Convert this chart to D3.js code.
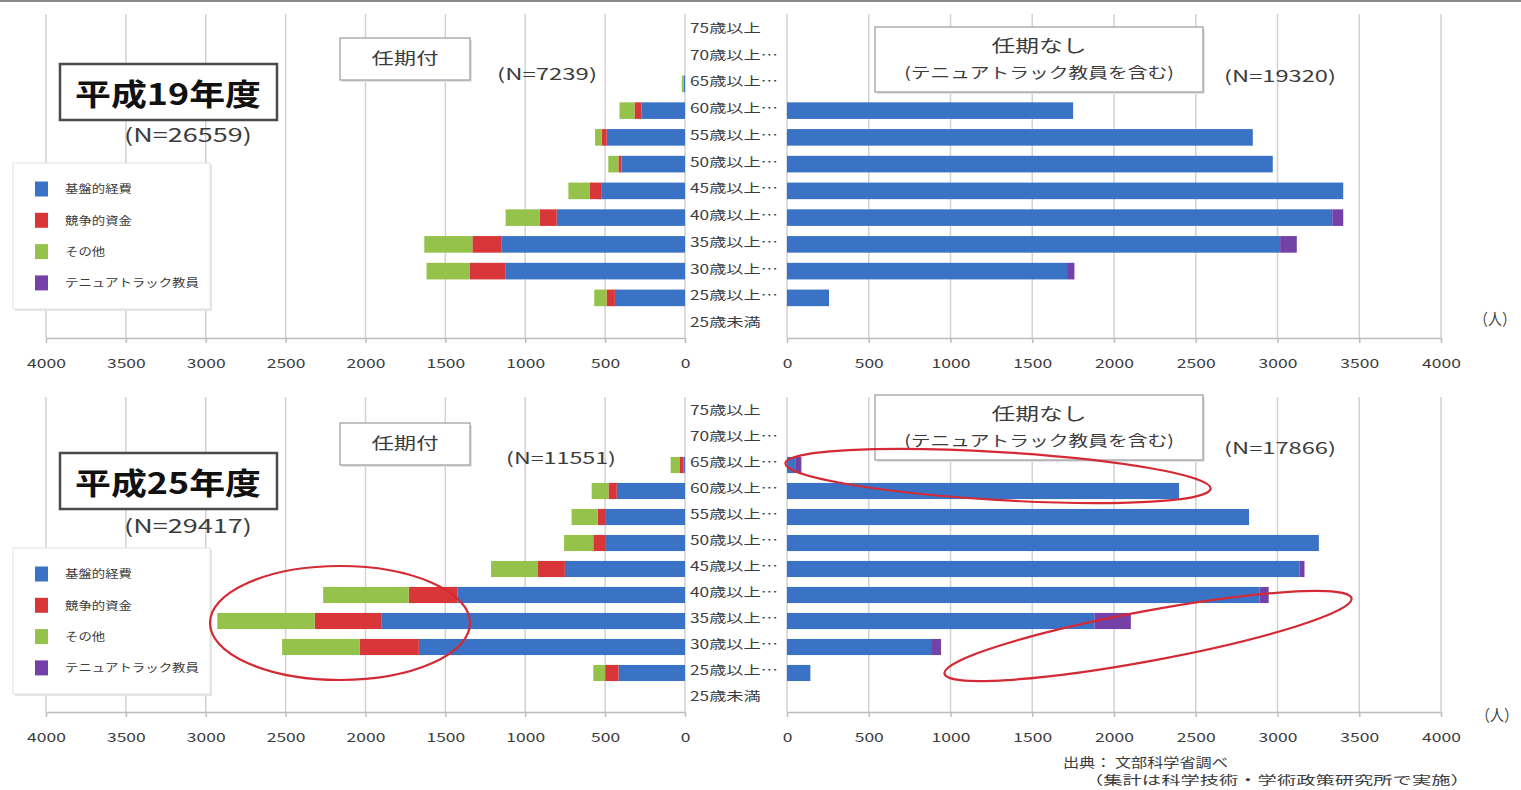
<!DOCTYPE html>
<html>
<head>
<meta charset="utf-8">
<script src="https://cdn.jsdelivr.net/npm/d3@7"></script>
<style>
  body { margin: 0; background: #fff; }
  svg { display: block; font-family: "Noto Sans CJK JP", "Noto Sans", sans-serif; }
</style>
</head>
<body>
<svg id="chart" width="1521" height="790"></svg>
<script>
// ---- data ---------------------------------------------------------------
const ages = ["75歳以上", "70歳以上…", "65歳以上…", "60歳以上…", "55歳以上…", "50歳以上…",
              "45歳以上…", "40歳以上…", "35歳以上…", "30歳以上…", "25歳以上…", "25歳未満"];
const fundKeys   = ["basic", "comp", "other", "tenure"];
const fundLabels = ["基盤的経費", "競争的資金", "その他", "テニュアトラック教員"];
const fundColors = ["#3a73c6", "#d9363a", "#95c24a", "#7341a8"];
const xTicks = [0, 500, 1000, 1500, 2000, 2500, 3000, 3500, 4000];

// 平成19年度 任期付 (N=7239)
const basicH19Fixed  = [0, 0,  8, 272, 490, 397, 525,  803, 1147, 1122, 439, 0];
const compH19Fixed   = [0, 0,  0,  44,  31,  20,  73,  105,  184,  224,  52, 0];
const otherH19Fixed  = [0, 0, 12,  94,  42,  63, 132,  215,  301,  272,  77, 0];
const tenureH19Fixed = [0, 0,  0,   0,   0,   0,   0,    0,    0,    0,   0, 0];
// 平成19年度 任期なし (N=19320)
const basicH19Perm   = [0, 0, 0, 1750, 2849, 2971, 3402, 3335, 3016, 1713, 257, 0];
const tenureH19Perm  = [0, 0, 0,    0,    0,    0,    0,   67,  102,   45,   0, 0];
// 平成25年度 任期付 (N=11551)
const basicH25Fixed  = [0, 0, 10, 427, 500, 500, 752, 1425, 1898, 1666, 416, 0];
const compH25Fixed   = [0, 0, 25,  52,  46,  74, 168,  304,  420,  369,  84, 0];
const otherH25Fixed  = [0, 0, 55, 105, 164, 183, 294,  536,  610,  487,  74, 0];
const tenureH25Fixed = [0, 0,  0,   0,   0,   0,   0,    0,    0,    0,   0, 0];
// 平成25年度 任期なし (N=17866)
const basicH25Perm   = [0, 0, 50, 2398, 2826, 3253, 3135, 2890, 1880, 887, 143, 0];
const tenureH25Perm  = [0, 0, 38,    0,    0,    0,   30,   56,  223,  55,   0, 0];

const zeros = ages.map(() => 0);

// per-panel content plus where its furniture sits
const panels = [
  { year: "平成19年度", total: "(N=26559)", fixedN: "(N=7239)", permN: "(N=19320)",
    fixed: [basicH19Fixed, compH19Fixed, otherH19Fixed, tenureH19Fixed],
    perm:  [basicH19Perm, zeros, zeros, tenureH19Perm],
    top: 17, bottom: 338,
    yearBoxY: 64, totalY: 134, fixedBoxY: 38, fixedNPos: [547, 73, 100],
    permBoxY: 27, permNY: 75, unitPos: [1495, 318], legendY: 163 },
  { year: "平成25年度", total: "(N=29417)", fixedN: "(N=11551)", permN: "(N=17866)",
    fixed: [basicH25Fixed, compH25Fixed, otherH25Fixed, tenureH25Fixed],
    perm:  [basicH25Perm, zeros, zeros, tenureH25Perm],
    top: 400, bottom: 712,
    yearBoxY: 453, totalY: 525, fixedBoxY: 423, fixedNPos: [561, 457, 110],
    permBoxY: 395, permNY: 447, unitPos: [1497, 714], legendY: 548 }
];

// ---- helpers ------------------------------------------------------------
const svg = d3.select("#chart");
const textColor = "#3c3c3c";

// text squeezed/stretched horizontally to a given width
function fitText(parent, str, cx, cy, width, size, weight, anchor) {
  const t = parent.append("text")
    .attr("font-size", size)
    .attr("font-weight", weight || 400)
    .attr("fill", textColor)
    .attr("text-anchor", anchor || "middle")
    .attr("dominant-baseline", "central")
    .text(str);
  const w = t.node().getComputedTextLength();
  t.attr("transform", `translate(${cx},${cy}) scale(${width / w},1)`);
  return t;
}

function shadowBox(parent, x, y, w, h, stroke, sw) {
  parent.append("rect").attr("x", x + 2).attr("y", y + 2).attr("width", w).attr("height", h)
    .attr("fill", "#e4e4e4");
  parent.append("rect").attr("x", x).attr("y", y).attr("width", w).attr("height", h)
    .attr("fill", "#fff").attr("stroke", stroke).attr("stroke-width", sw);
}

// top rule
svg.append("line").attr("x1", 0).attr("x2", 1521).attr("y1", 1).attr("y2", 1)
  .attr("stroke", "#8a8a8a").attr("stroke-width", 2);

const xLeft  = d3.scaleLinear().domain([0, 4000]).range([685, 46]);
const xRight = d3.scaleLinear().domain([0, 4000]).range([787, 1441]);
const stack = d3.stack().keys(fundKeys);

panels.forEach(p => {
  const g = svg.append("g");
  const y = d3.scaleBand().domain(ages).range([p.top, p.bottom]).paddingInner(0.38).paddingOuter(0.19);

  // gridlines
  [xLeft, xRight].forEach(x => {
    g.append("g").selectAll("line").data(xTicks).join("line")
      .attr("x1", d => x(d)).attr("x2", d => x(d))
      .attr("y1", p.top - 3).attr("y2", p.bottom)
      .attr("stroke", "#d2d2d2").attr("stroke-width", 1.5);
  });

  // axes
  [xLeft, xRight].forEach(x => {
    const ax = g.append("g").attr("transform", `translate(0,${p.bottom})`)
      .call(d3.axisBottom(x).tickValues(xTicks).tickFormat(d3.format("d"))
        .tickSize(5).tickSizeOuter(0));
    ax.select(".domain").attr("stroke", "#bdbdbd").attr("stroke-width", 1.5);
    ax.selectAll(".tick line").attr("stroke", "#bdbdbd").attr("stroke-width", 1.5);
    ax.selectAll(".tick text")
      .attr("y", 24).attr("dy", null).attr("dominant-baseline", "central")
      .attr("font-size", 12.5).attr("fill", textColor)
      .attr("font-family", "'Noto Sans CJK JP', sans-serif")
      .attr("transform", "scale(1.4,1)");
  });

  // stacked bars
  const rows = (arrs) => ages.map((a, i) => ({
    age: a, basic: arrs[0][i], comp: arrs[1][i], other: arrs[2][i], tenure: arrs[3][i] }));
  const leftSeries = stack(rows(p.fixed));
  const rightSeries = stack(rows(p.perm));

  g.append("g").selectAll("g").data(leftSeries).join("g")
    .attr("fill", (d, i) => fundColors[i])
    .selectAll("rect").data(d => d.filter(v => v[1] > v[0])).join("rect")
    .attr("x", d => xLeft(d[1]))
    .attr("width", d => xLeft(d[0]) - xLeft(d[1]))
    .attr("y", d => y(d.data.age))
    .attr("height", y.bandwidth());

  g.append("g").selectAll("g").data(rightSeries).join("g")
    .attr("fill", (d, i) => fundColors[i])
    .selectAll("rect").data(d => d.filter(v => v[1] > v[0])).join("rect")
    .attr("x", d => xRight(d[0]))
    .attr("width", d => xRight(d[1]) - xRight(d[0]))
    .attr("y", d => y(d.data.age))
    .attr("height", y.bandwidth());

  // age labels in the middle column
  g.append("g").selectAll("text").data(ages).join("text")
    .attr("transform", d => `translate(690,${y(d) + y.bandwidth() / 2 - 3}) scale(1.38,1)`)
    .attr("font-size", 12.5).attr("fill", textColor)
    .attr("dominant-baseline", "central")
    .text(d => d);

  // year box
  svg.append("rect").attr("x", 60).attr("y", p.yearBoxY).attr("width", 217).attr("height", 56)
    .attr("fill", "#fff").attr("stroke", "#4a4a4a").attr("stroke-width", 2.5);
  fitText(svg, p.year, 168, p.yearBoxY + 28, 186, 30, 700).attr("fill", "#111");
  fitText(svg, p.total, 188, p.totalY, 128, 19);

  // 任期付 box
  shadowBox(svg, 340, p.fixedBoxY, 130, 42, "#9a9a9a", 1.2);
  fitText(svg, "任期付", 405, p.fixedBoxY + 19, 67, 16);
  fitText(svg, p.fixedN, p.fixedNPos[0], p.fixedNPos[1], p.fixedNPos[2], 16);

  // 任期なし box
  shadowBox(svg, 875, p.permBoxY, 328, 65, "#9a9a9a", 1.2);
  fitText(svg, "任期なし", 1039, p.permBoxY + 18, 95, 17);
  fitText(svg, "(テニュアトラック教員を含む)", 1039, p.permBoxY + 45, 270, 15);
  fitText(svg, p.permN, 1280, p.permNY, 112, 16);

  // unit
  fitText(svg, "（人）", p.unitPos[0], p.unitPos[1], 42, 16);

  // legend
  const ly = p.legendY;
  shadowBox(svg, 13, ly, 197, 146, "#e2e2e2", 1);
  fundLabels.forEach((lab, i) => {
    const cy = ly + 26 + i * 31.3;
    svg.append("rect").attr("x", 35).attr("y", cy - 7.5).attr("width", 13).attr("height", 15)
      .attr("fill", fundColors[i]);
    fitText(svg, lab, 65, cy, lab.length * 13.4, 11, 400, "start");
  });
});

// source note
fitText(svg, "出典： 文部科学省調べ", 1063, 761, 165, 13, 400, "start");
fitText(svg, "（集計は科学技術・学術政策研究所で実施）", 1084, 780, 386, 12.5, 400, "start");

// red highlight ellipses
const hl = svg.append("g").attr("fill", "none").attr("stroke", "#d42a35").attr("stroke-width", 2.2);
hl.append("ellipse").attr("cx", 340).attr("cy", 623).attr("rx", 130).attr("ry", 57);
hl.append("ellipse").attr("rx", 213).attr("ry", 24)
  .attr("transform", "translate(998,476) rotate(3.4)");
hl.append("ellipse").attr("rx", 207).attr("ry", 25)
  .attr("transform", "translate(1148,636) rotate(-10.5)");
</script>
</body>
</html>
